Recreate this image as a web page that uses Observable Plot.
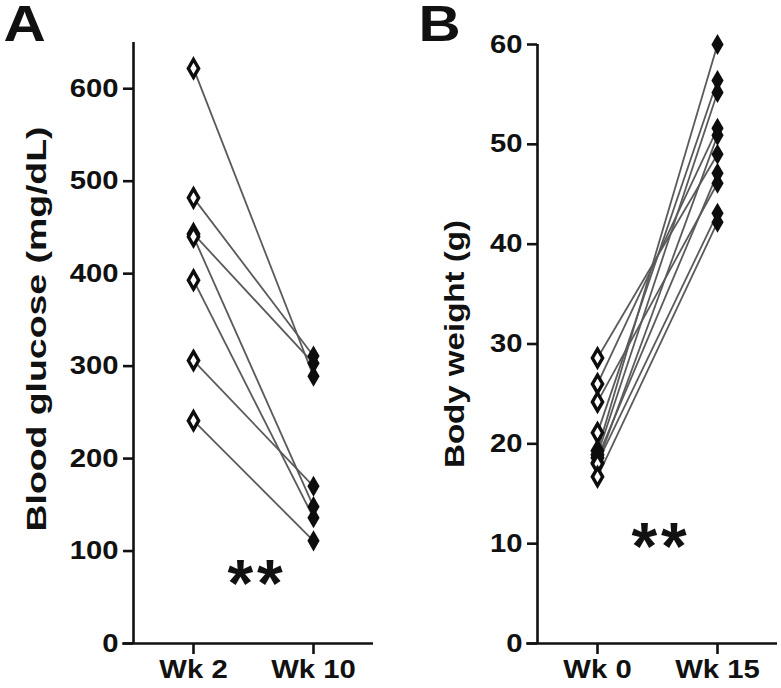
<!DOCTYPE html>
<html>
<head>
<meta charset="utf-8">
<script src="https://cdn.jsdelivr.net/npm/d3@7"></script>
<script src="https://cdn.jsdelivr.net/npm/@observablehq/plot@0.6"></script>
<style>
  html, body { margin: 0; padding: 0; background: #fff; }
  #fig { position: relative; width: 781px; height: 688px; }
  #fig svg { position: absolute; top: 0; overflow: visible; }
</style>
</head>
<body>
<div id="fig"></div>
<script>
// ---- Data ----
const weeksA = ["Wk 2", "Wk 10"];
const glucoseWk2 = [622, 482, 443, 440, 393, 306, 241];
const glucoseWk10 = [289, 311, 303, 148, 136, 170, 111];
const glucoseTicks = [0, 100, 200, 300, 400, 500, 600];

const weeksB = ["Wk 0", "Wk 15"];
const weightWk0 = [28.6, 26.0, 24.2, 21.1, 19.3, 18.9, 18.6, 18.1, 18.0, 16.7];
const weightWk15 = [49.0, 51.6, 46.1, 56.4, 60.0, 55.2, 47.1, 43.1, 50.9, 42.2];
const weightTicks = [0, 10, 20, 30, 40, 50, 60];

const FONT = "'Liberation Sans', Arial, Helvetica, sans-serif";
const SIG = "**";

function panel(o) {
  const links = o.before.map((b, i) => ({b, a: o.after[i]}));
  const pre = o.before.map(v => ({t: 0, v}));
  const post = o.after.map(v => ({t: 1, v}));
  return Plot.plot({
    width: o.width,
    height: 688,
    marginLeft: o.marginLeft,
    marginRight: o.marginRight,
    marginTop: o.marginTop,
    marginBottom: 45,
    style: {fontFamily: FONT, background: "transparent", overflow: "visible"},
    x: {type: "linear", domain: [-0.5, 1.5], axis: null},
    y: {domain: o.yDomain, axis: null},
    marks: [
      Plot.link(links, {x1: () => 0, y1: "b", x2: () => 1, y2: "a", stroke: "#5a5a5a", strokeWidth: 1.8}),
      Plot.dot(post, {x: "t", y: "v", symbol: "diamond", r: 6.4, fill: "#0d0d0d", stroke: "none"}),
      Plot.dot(pre, {x: "t", y: "v", symbol: "diamond", r: 5.4, fill: "#fff", stroke: "#0d0d0d", strokeWidth: 3.4}),
      Plot.ruleX([-0.5], {stroke: "#111", strokeWidth: 2.6}),
      Plot.ruleY([0], {x1: -0.59, x2: 1.5, stroke: "#111", strokeWidth: 2.6}),
      Plot.axisY({ticks: o.yTicks, tickSize: 10, tickPadding: 5, strokeWidth: 2.6, stroke: "#111",
        fontSize: 25, fontWeight: "bold", fill: "#111", label: null}),
      Plot.axisX({ticks: [0, 1], tickFormat: i => o.weeks[i], tickSize: 11, tickPadding: 6, strokeWidth: 2.6, stroke: "#111",
        fontSize: 25, fontWeight: "bold", fill: "#111", label: null}),
      Plot.text([o.yLabel], {frameAnchor: "left", textAnchor: "middle", rotate: -90, dx: o.labelDx, dy: o.labelDy, text: d => d,
        fontSize: 28, fontWeight: "bold", fill: "#111"}),
      Plot.text([o.letter], {frameAnchor: "top-left", textAnchor: "start", lineAnchor: "top", dx: o.letterDx, dy: 5 - o.marginTop,
        text: d => d, fontSize: 50, fontWeight: "bold", fill: "#111"}),
      Plot.text([SIG], {x: () => 0.53, y: () => o.sigY, text: d => d, dy: 7, fontSize: 66, fontWeight: "bold", fill: "#111"})
    ]
  });
}

// widen the bold type so it matches the broad face of the reference
function widen(svg, lengths) {
  svg.querySelectorAll("text").forEach(t => {
    const s = t.textContent;
    if (s === SIG) { t.setAttribute("letter-spacing", "4"); return; }
    const len = t.getComputedTextLength();
    const target = lengths[s] ?? len * 1.17;
    t.setAttribute("textLength", target.toFixed(1));
    t.setAttribute("lengthAdjust", "spacingAndGlyphs");
  });
}

const fig = document.getElementById("fig");
const a = panel({
  weeks: weeksA, before: glucoseWk2, after: glucoseWk10, yDomain: [0, 650], yTicks: glucoseTicks,
  yLabel: "Blood glucose (mg/dL)", letter: "A", sigY: 71,
  width: 390, marginLeft: 133, marginRight: 17, marginTop: 42, labelDx: -96, labelDy: -14, letterDx: -130
});
a.style.left = "0px";
fig.appendChild(a);
widen(a, {"Blood glucose (mg/dL)": 405});

const b = panel({
  weeks: weeksB, before: weightWk0, after: weightWk15, yDomain: [0, 60], yTicks: weightTicks,
  yLabel: "Body weight (g)", letter: "B", sigY: 10.3,
  width: 391, marginLeft: 147, marginRight: 4, marginTop: 44, labelDx: -82, labelDy: 0, letterDx: -119
});
b.style.left = "390px";
fig.appendChild(b);
widen(b, {"Body weight (g)": 248});
</script>
</body>
</html>
